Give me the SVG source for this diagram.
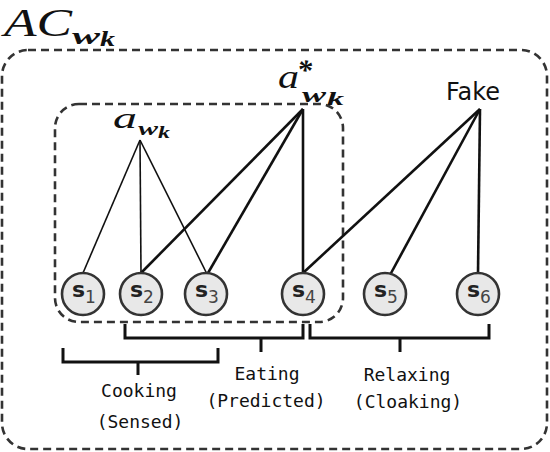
<svg xmlns="http://www.w3.org/2000/svg" width="550" height="452" viewBox="0 0 550 452">
<style>
.box{fill:none;stroke:#333;stroke-width:2.6;stroke-dasharray:8 5}
.thin{stroke:#111;stroke-width:1.6;fill:none}
.thick{stroke:#111;stroke-width:2.6;fill:none}
.br{stroke:#111;stroke-width:3;fill:none}
.node circle{fill:#e8e8e8;stroke:#333;stroke-width:2.6}
.sl{font-family:"DejaVu Sans",sans-serif;font-size:22px;font-weight:bold;fill:#222}
.sub{font-family:"DejaVu Sans",sans-serif;font-size:17px;fill:#444}
.math{font-family:"Liberation Serif",serif;font-style:italic;fill:#111}
.mb{font-family:"Liberation Serif",serif;font-style:italic;font-weight:bold;fill:#111}
.lbl{font-family:"DejaVu Sans Mono",monospace;font-size:18px;fill:#111;text-anchor:middle}
</style>
<rect class="box" x="2" y="50" width="545" height="399" rx="26"/>
<rect class="box" x="55" y="104" width="288" height="218" rx="24"/>
<g id="title">
<text class="math" x="4" y="36" font-size="39" textLength="68" lengthAdjust="spacingAndGlyphs">AC</text>
<text class="mb" x="72" y="44" font-size="24" textLength="28" lengthAdjust="spacingAndGlyphs">w</text>
<text class="mb" x="100" y="46" font-size="20" textLength="15" lengthAdjust="spacingAndGlyphs">k</text>
</g>
<g id="connectors">
<line class="thin" x1="140" y1="140" x2="83" y2="273"/>
<line class="thin" x1="140" y1="140" x2="141" y2="273"/>
<line class="thin" x1="140" y1="140" x2="207" y2="274"/>
<line class="thick" x1="303" y1="109" x2="141" y2="273"/>
<line class="thick" x1="303" y1="109" x2="208" y2="273"/>
<line class="thick" x1="303" y1="109" x2="303" y2="273"/>
<line class="thick" x1="480" y1="109" x2="303" y2="273"/>
<line class="thick" x1="480" y1="109" x2="390" y2="275"/>
<line class="thick" x1="480" y1="109" x2="478" y2="273"/>
</g>
<g id="a_wk">
<text class="math" x="113" y="128" font-size="30" textLength="24" lengthAdjust="spacingAndGlyphs">a</text>
<text class="mb" x="138" y="135" font-size="19" textLength="20" lengthAdjust="spacingAndGlyphs">w</text>
<text class="mb" x="158" y="138" font-size="16" textLength="12" lengthAdjust="spacingAndGlyphs">k</text>
</g>
<g id="a_star_wk">
<text class="math" x="278" y="88" font-size="34" textLength="21" lengthAdjust="spacingAndGlyphs">a</text>
<text class="mb" x="297" y="80" font-size="30">*</text>
<text class="mb" x="302" y="102" font-size="21" textLength="24" lengthAdjust="spacingAndGlyphs">w</text>
<text class="mb" x="327" y="105" font-size="18" textLength="17" lengthAdjust="spacingAndGlyphs">k</text>
</g>
<g id="fake">
<text x="446" y="100" font-family="DejaVu Sans,sans-serif" font-size="24" fill="#111">Fake</text>
</g>
<g id="s1" class="node"><circle cx="83" cy="294" r="21"/><text class="sl" x="72" y="297">s</text><text class="sub" x="85" y="303">1</text></g>
<g id="s2" class="node"><circle cx="141" cy="294" r="21"/><text class="sl" x="130" y="297">s</text><text class="sub" x="143" y="303">2</text></g>
<g id="s3" class="node"><circle cx="206" cy="294" r="21"/><text class="sl" x="195" y="297">s</text><text class="sub" x="208" y="303">3</text></g>
<g id="s4" class="node"><circle cx="303" cy="294" r="21"/><text class="sl" x="292" y="297">s</text><text class="sub" x="305" y="303">4</text></g>
<g id="s5" class="node"><circle cx="385" cy="294" r="21"/><text class="sl" x="374" y="297">s</text><text class="sub" x="387" y="303">5</text></g>
<g id="s6" class="node"><circle cx="478" cy="294" r="21"/><text class="sl" x="467" y="297">s</text><text class="sub" x="480" y="303">6</text></g>
<g id="cooking">
<path class="br" d="M63,348 V362 H218 V348 M138,362 V375"/>
<text class="lbl" x="139" y="397">Cooking</text>
<text class="lbl" x="140" y="428">(Sensed)</text>
</g>
<g id="eating">
<path class="br" d="M125,324 V338 H303 V324 M261,338 V352"/>
<text class="lbl" x="267" y="380">Eating</text>
<text class="lbl" x="266" y="407">(Predicted)</text>
</g>
<g id="relaxing">
<path class="br" d="M310,324 V338 H489 V324 M400,338 V352"/>
<text class="lbl" x="407" y="381">Relaxing</text>
<text class="lbl" x="408" y="408">(Cloaking)</text>
</g>
</svg>
